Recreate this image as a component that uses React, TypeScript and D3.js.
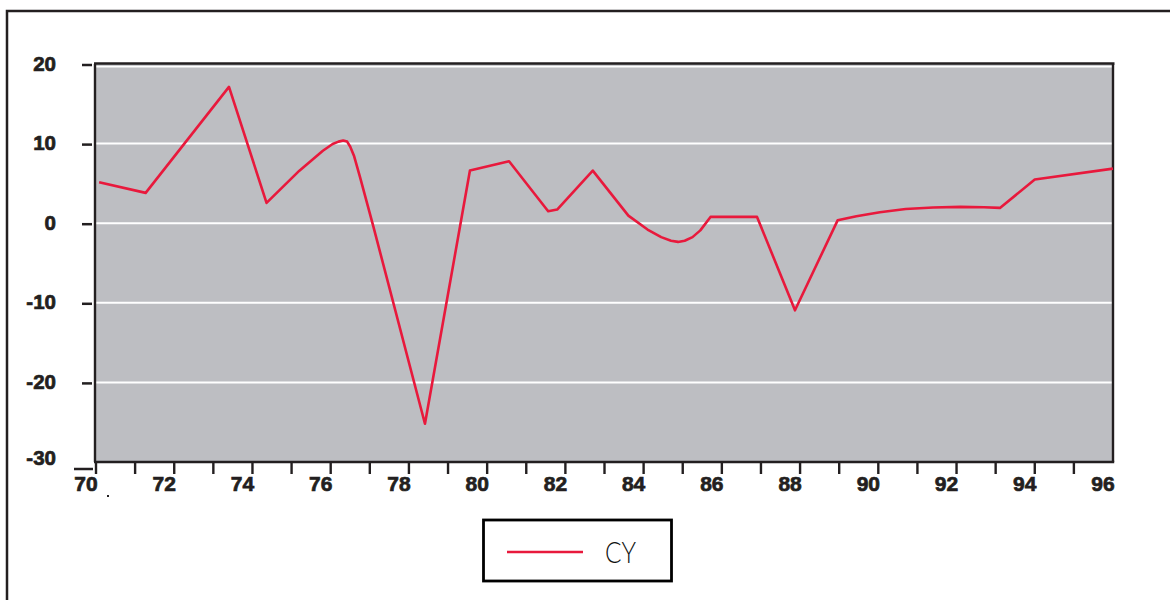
import React from "react";
import * as d3 from "d3";

// CY series, year (fractional, 19xx) and percent value
const years = [
  70.08, 71.27, 73.4, 74.36, 75.2, 75.8, 76.05, 76.2, 76.32, 76.42, 76.5,
  76.6, 76.75, 77.09, 78.41, 79.56, 80.56, 81.56, 81.79, 82.7, 83.61, 84.1,
  84.45, 84.7, 84.88, 85.05, 85.25, 85.45, 85.71, 86.9, 87.87, 88.96, 89.44,
  90.04, 90.7, 91.4, 92.1, 92.7, 93.11, 94.0, 96.0,
];
const values = [
  5.14, 3.81, 17.12, 2.55, 6.6, 9.1, 9.95, 10.25, 10.38, 10.25, 9.6,
  8.4, 5.8, -0.4, -25.2, 6.61, 7.78, 1.5, 1.71, 6.61, 0.95, -0.8,
  -1.75, -2.2, -2.35, -2.2, -1.75, -0.9, 0.79, 0.79, -10.94, 0.36, 0.87,
  1.37, 1.78, 1.98, 2.05, 2.0, 1.92, 5.48, 6.86,
];

const yTicks = [20, 10, 0, -10, -20, -30];
const gridValues = [10, 0, -10, -20];
const xLabelYears = [70, 72, 74, 76, 78, 80, 82, 84, 86, 88, 90, 92, 94, 96];
const xTickYears = d3.range(70, 96);
const seriesName = "CY";

const W = 1170;
const H = 600;
const plot = { left: 96, right: 1113, top: 64, bottom: 462 };

const RED = "#e8193c";
const DARK = "#231f20";
const PANEL = "#bdbec2";
const labelFont = "'Liberation Sans', Arial, sans-serif";

export default function App() {
  const x = d3.scaleLinear().domain([70, 96]).range([plot.left, plot.right]);
  const y = d3.scaleLinear().domain([-30, 20]).range([plot.bottom, plot.top]);

  const pts: [number, number][] = years.map((yr, i) => [yr, values[i]]);
  const line = d3
    .line<[number, number]>()
    .x((d) => x(d[0]))
    .y((d) => y(d[1]))
    .curve(d3.curveLinear);

  return (
    <svg
      width={W}
      height={H}
      style={{ position: "absolute", left: 0, top: 0, background: "#fff" }}
    >
      {/* outer frame */}
      <path d={`M7,${H + 5} V11 H${W + 5}`} fill="none" stroke={DARK} strokeWidth={2.5} />

      {/* panel */}
      <rect
        x={plot.left}
        y={plot.top}
        width={plot.right - plot.left}
        height={plot.bottom - plot.top}
        fill={PANEL}
      />

      {/* grid */}
      {gridValues.map((v) => (
        <line
          key={v}
          x1={plot.left}
          x2={plot.right}
          y1={y(v)}
          y2={y(v)}
          stroke="#fff"
          strokeWidth={2}
        />
      ))}
      <line x1={plot.left} x2={plot.right} y1={y(20) + 2.6} y2={y(20) + 2.6} stroke="#fff" strokeWidth={1.8} />

      {/* panel borders */}
      <line x1={94} x2={plot.right + 1.5} y1={plot.top - 0.5} y2={plot.top - 0.5} stroke={DARK} strokeWidth={2.5} />
      <line x1={plot.left - 1} x2={plot.left - 1} y1={plot.top} y2={plot.bottom} stroke={DARK} strokeWidth={2.4} />
      <line x1={plot.right} x2={plot.right} y1={plot.top} y2={plot.bottom} stroke={DARK} strokeWidth={2.4} />
      <line x1={94} x2={plot.right + 1.2} y1={plot.bottom} y2={plot.bottom} stroke={DARK} strokeWidth={2.5} />

      {/* y ticks and labels */}
      {yTicks.map((v) => {
        const isBottom = v === -30;
        const ty = isBottom ? y(v) + 7 : y(v) + 1;
        return (
          <g key={v}>
            <line
              x1={isBottom ? 74 : 82}
              x2={isBottom ? 93 : 92}
              y1={ty}
              y2={ty}
              stroke={DARK}
              strokeWidth={2.5}
            />
            <text
              x={56}
              y={isBottom ? y(v) - 5 : y(v) - 1}
              textAnchor="end"
              dominantBaseline="central"
              fontFamily={labelFont}
              fontWeight="bold"
              fontSize={20.5}
              fill={DARK}
              stroke={DARK}
              strokeWidth={0.7}
            >
              {v}
            </text>
          </g>
        );
      })}

      {/* x ticks */}
      {xTickYears.map((yr) => (
        <line
          key={yr}
          x1={x(yr)}
          x2={x(yr)}
          y1={plot.bottom}
          y2={plot.bottom + 12}
          stroke={DARK}
          strokeWidth={2.4}
        />
      ))}
      {xLabelYears.map((yr) => (
        <text
          key={yr}
          x={x(yr) - 10}
          y={491}
          textAnchor="middle"
          fontFamily={labelFont}
          fontWeight="bold"
          fontSize={21}
          fill={DARK}
          stroke={DARK}
          strokeWidth={0.7}
        >
          {yr}
        </text>
      ))}
      <rect x={107} y={495} width={2} height={2} fill={DARK} />

      {/* series */}
      <path d={line(pts) ?? ""} fill="none" stroke={RED} strokeWidth={2.6} strokeLinejoin="round" />

      {/* legend */}
      <rect x={483.5} y={520} width={188} height={61} fill="#fff" stroke="#000" strokeWidth={2.8} />
      <line x1={507} x2={583} y1={552} y2={552} stroke={RED} strokeWidth={2.6} />
      <text
        x={605}
        y={563}
        fontFamily="Lato, 'Noto Sans', sans-serif"
        fontWeight={300}
        fontSize={29}
        textLength={31}
        lengthAdjust="spacingAndGlyphs"
        fill="#111"
      >
        {seriesName}
      </text>
    </svg>
  );
}
